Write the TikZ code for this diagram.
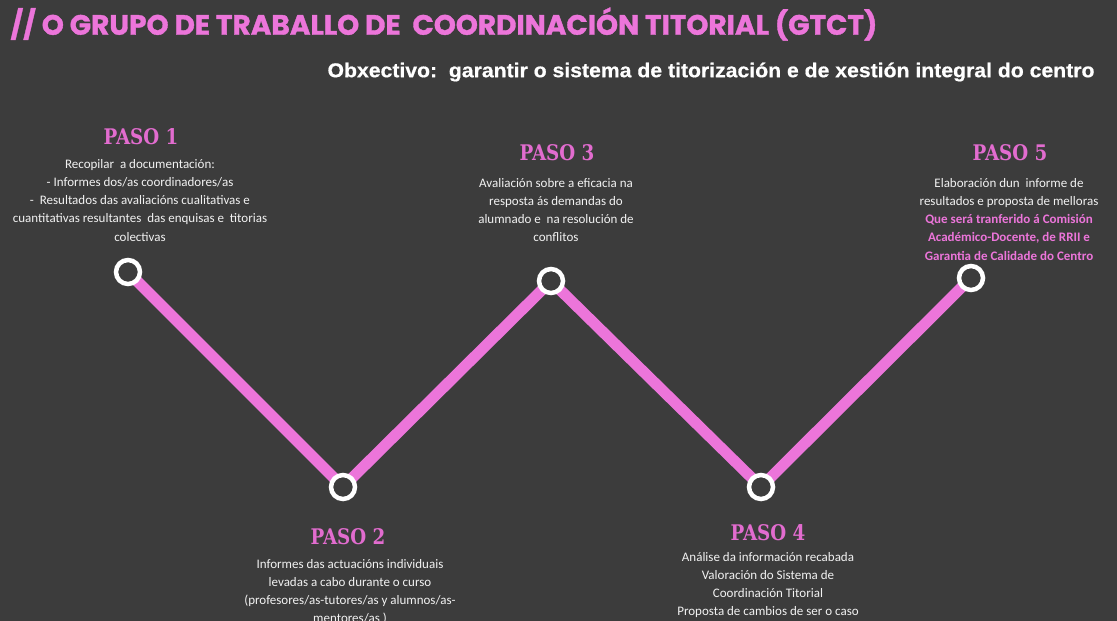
\documentclass[tikz,border=0pt]{standalone}
\usepackage{fontspec}
\setmainfont{Carlito}
\newfontfamily\titlefont{Poppins}[FakeBold=1.2]
\newfontfamily\subfont{Liberation Sans}[FakeStretch=1.06, FakeBold=0.6]
\newfontfamily\pasofont{DejaVu Serif}[FakeStretch=0.85]
\usetikzlibrary{backgrounds}
\definecolor{bgc}{HTML}{3C3C3C}
\definecolor{pinkc}{HTML}{EC75DA}
\definecolor{pasoc}{HTML}{E26CCF}

\begin{document}
\begin{tikzpicture}[x=1pt, y=-1pt,
  stop/.style={circle, draw=white, line width=4.5pt, fill=bgc, minimum size=24pt, inner sep=0pt},
  paso/.style={text=pasoc, font=\pasofont\bfseries\fontsize{21.5}{24}\selectfont},
  desc/.style={text=white!90!gray, align=center, anchor=north, inner sep=0pt, font=\fontsize{13}{18.2}\selectfont},
  track/.style={pinkc, line width=11pt}]
\useasboundingbox (0,0) rectangle (1117,621);
% title
\node[anchor=west, text=pinkc, font=\titlefont\bfseries\fontsize{28}{30}\selectfont] (title) at (7,24) {// O GRUPO DE TRABALLO DE\ \ COORDINACIÓN TITORIAL (GTCT)};
\node[anchor=east, text=white, font=\subfont\bfseries\fontsize{20}{22}\selectfont] (goal) at (1098,72) {Obxectivo:\ \ garantir o sistema de titorización e de xestión integral do centro};
% stops
\node[stop] (p1) at (128,272) {};
\node[stop] (p2) at (343,487) {};
\node[stop] (p3) at (551,281) {};
\node[stop] (p4) at (761,487) {};
\node[stop] (p5) at (971,278) {};
\begin{pgfonlayer}{background}
\fill[bgc] (0,0) rectangle (1117,621);
\draw[track] (p1.center) -- (p2.center) -- (p3.center) -- (p4.center) -- (p5.center);
\end{pgfonlayer}
% labels
\node[paso] (h1) at (141,137) {PASO 1};
\node[desc] (d1) at (140,159) {Recopilar\ \ a documentación:\\- Informes dos/as coordinadores/as\\-\ \ Resultados das avaliacións cualitativas e\\cuantitativas resultantes\ \ das enquisas e\ \ titorias\\colectivas};
\node[paso] (h2) at (348,537) {PASO 2};
\node[desc] (d2) at (350,559) {Informes das actuacións individuais\\levadas a cabo durante o curso\\(profesores/as-tutores/as y alumnos/as-\\mentores/as )};
\node[paso] (h3) at (557,153) {PASO 3};
\node[desc] (d3) at (556,178) {Avaliación sobre a eficacia na\\resposta ás demandas do\\alumnado e\ \ na resolución de\\conflitos};
\node[paso] (h4) at (768,533) {PASO 4};
\node[desc] (d4) at (768,552) {Análise da información recabada\\Valoración do Sistema de\\Coordinación Titorial\\Proposta de cambios de ser o caso};
\node[paso] (h5) at (1010,153) {PASO 5};
\node[desc] (d5) at (1009,178) {Elaboración dun\ \ informe de\\resultados e proposta de melloras\\{\color{pinkc}\bfseries Que será tranferido á Comisión}\\{\color{pinkc}\bfseries Académico-Docente, de RRII e}\\{\color{pinkc}\bfseries Garantia de Calidade do Centro}};
\end{tikzpicture}
\end{document}
